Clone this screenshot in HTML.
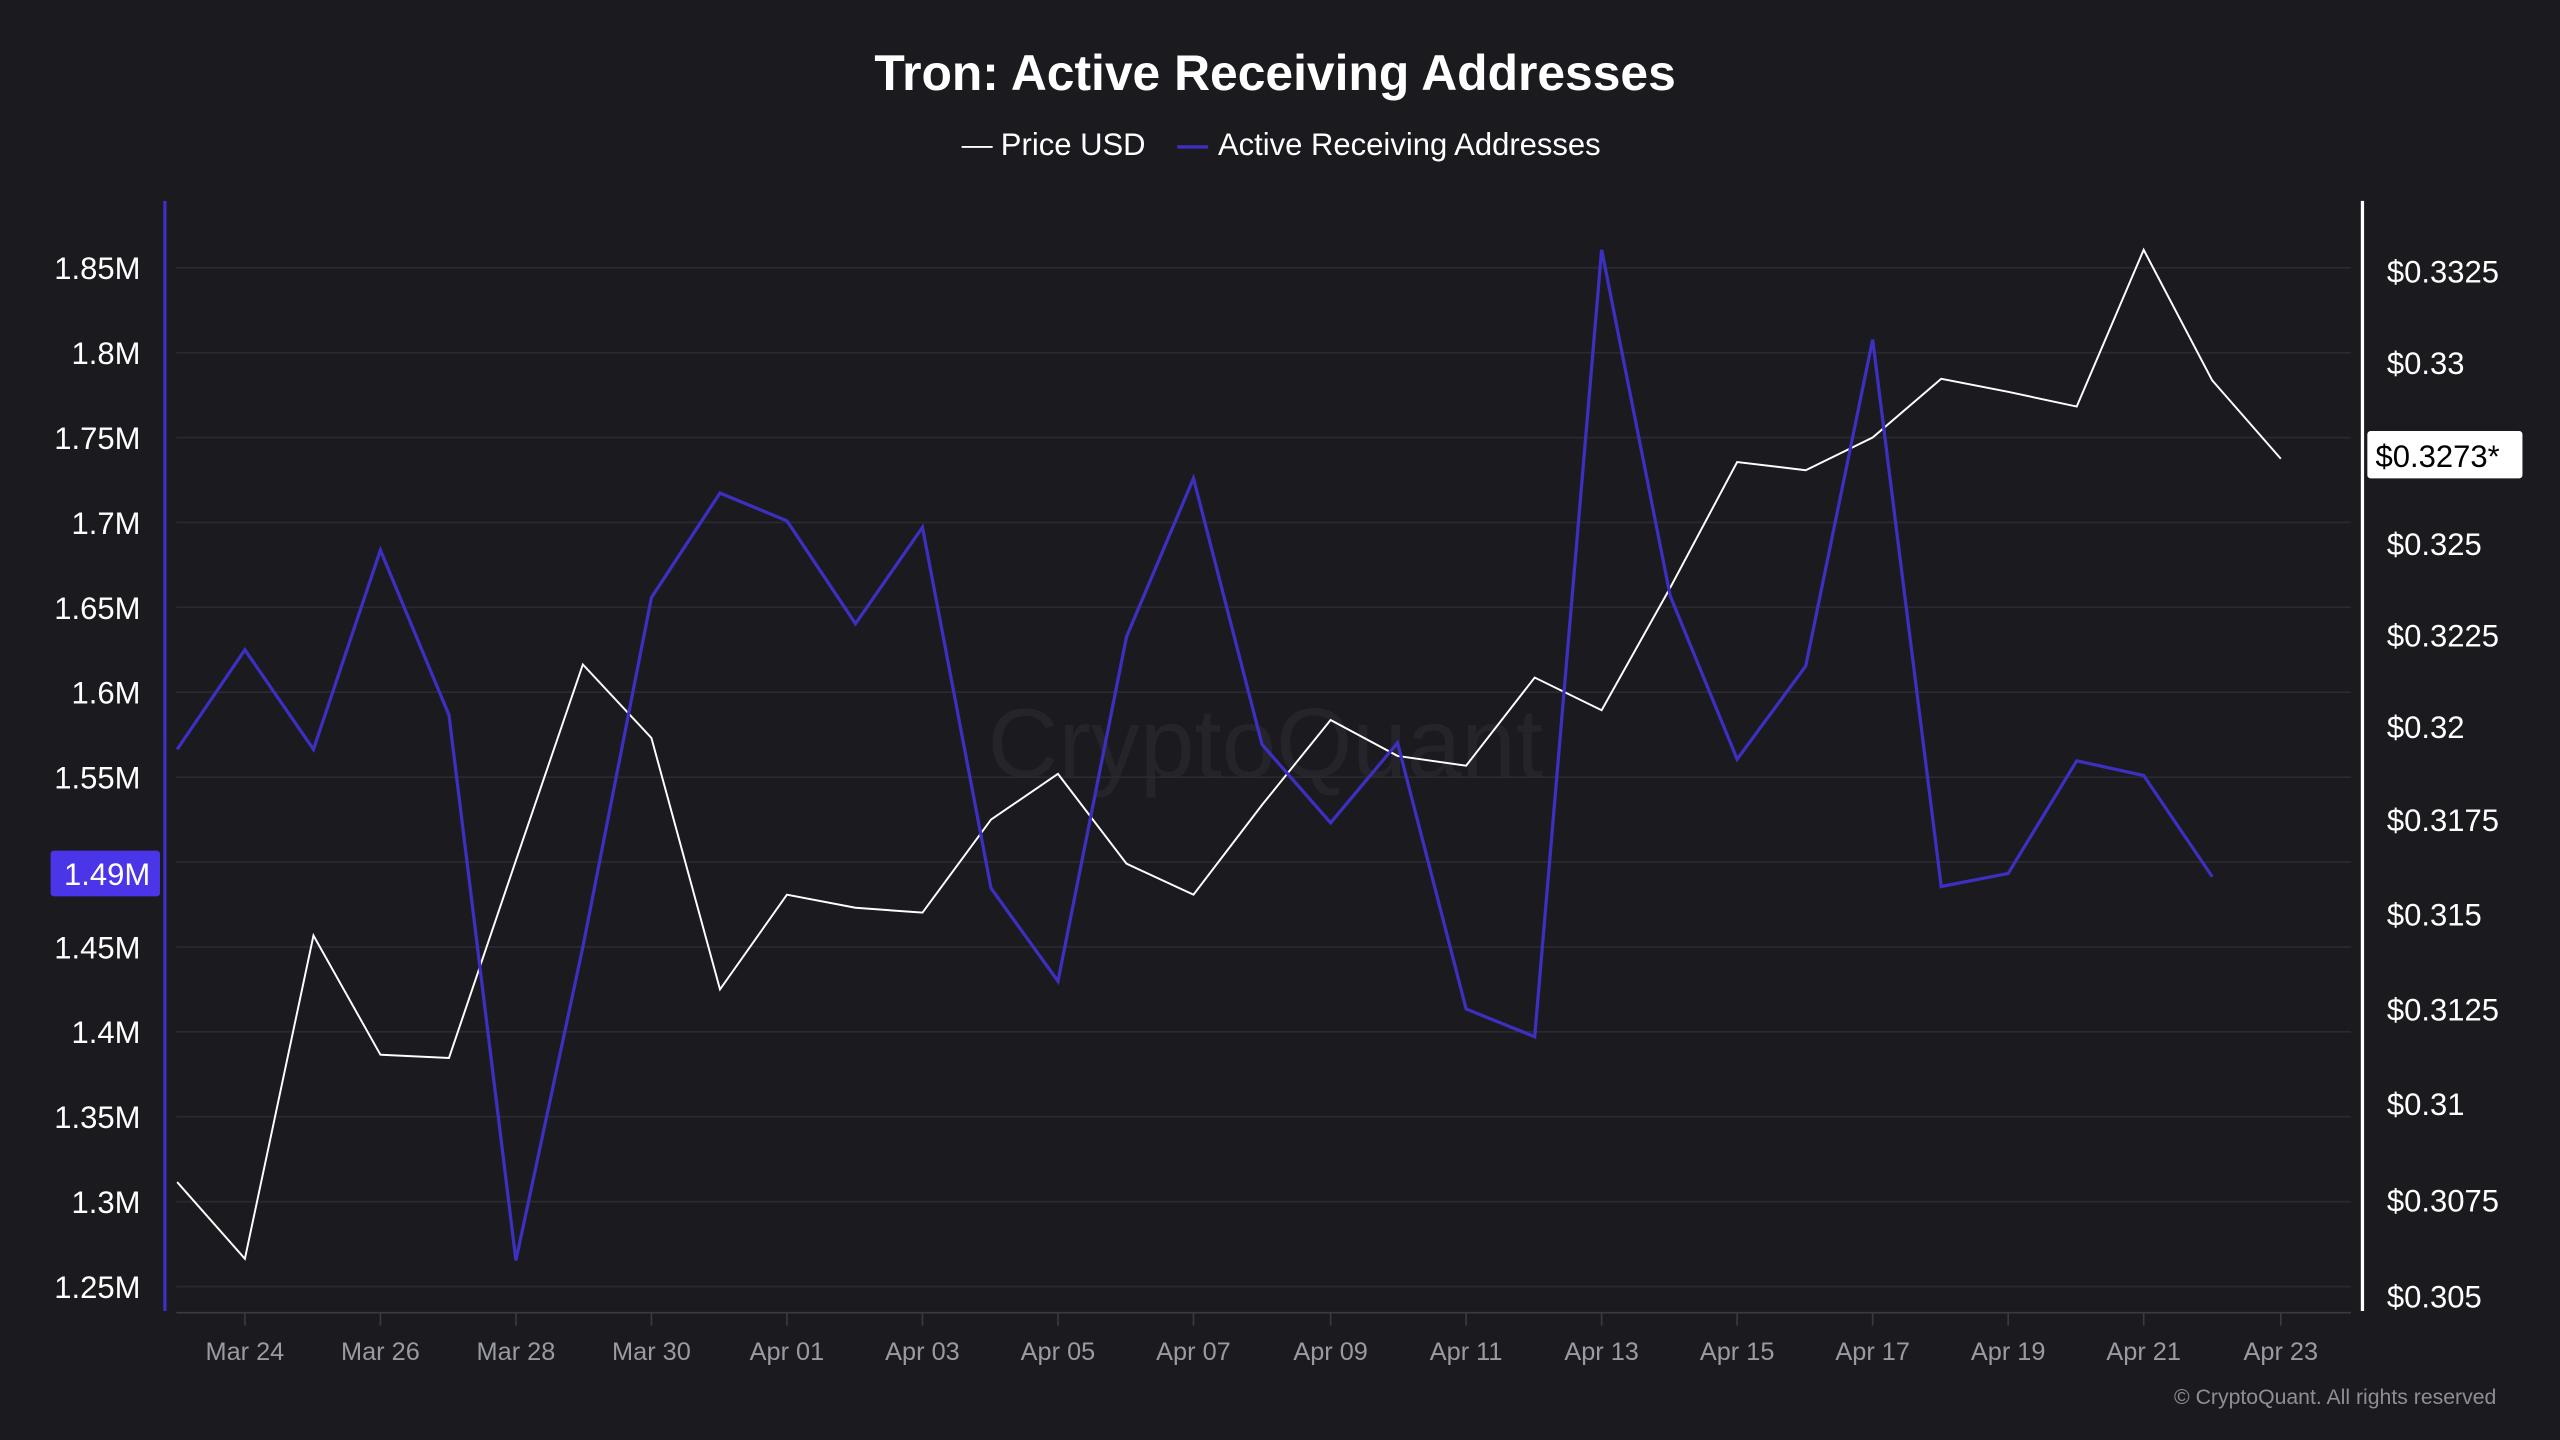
<!DOCTYPE html>
<html><head><meta charset="utf-8"><style>
html,body{margin:0;padding:0;background:#1a1a1f;}
svg{display:block;}
text{font-family:"Liberation Sans",sans-serif;}
</style></head><body>
<svg width="2560" height="1440" viewBox="0 0 1568 882" xmlns="http://www.w3.org/2000/svg">
<rect width="1568" height="882" fill="#1a1a1f"/>
<text x="781" y="55" text-anchor="middle" fill="#ffffff" font-size="30.5" font-weight="bold">Tron: Active Receiving Addresses</text>
<line x1="589" y1="90" x2="608" y2="90" stroke="#ffffff" stroke-width="1.2"/>
<text x="613" y="95" fill="#ffffff" font-size="19">Price USD</text>
<line x1="721" y1="90" x2="740" y2="90" stroke="#3d2fc0" stroke-width="2"/>
<text x="746" y="95" fill="#ffffff" font-size="19">Active Receiving Addresses</text>
<text x="775" y="476" text-anchor="middle" fill="#24242a" font-size="60">CryptoQuant</text>
<g stroke="#2a2a31" stroke-width="1">
<line x1="108" y1="164" x2="1440" y2="164"/><line x1="108" y1="216" x2="1440" y2="216"/>
<line x1="108" y1="268" x2="1440" y2="268"/><line x1="108" y1="320" x2="1440" y2="320"/>
<line x1="108" y1="372" x2="1440" y2="372"/><line x1="108" y1="424" x2="1440" y2="424"/>
<line x1="108" y1="476" x2="1440" y2="476"/><line x1="108" y1="528" x2="1440" y2="528"/>
<line x1="108" y1="580" x2="1440" y2="580"/><line x1="108" y1="632" x2="1440" y2="632"/>
<line x1="108" y1="684" x2="1440" y2="684"/><line x1="108" y1="736" x2="1440" y2="736"/>
<line x1="108" y1="788" x2="1440" y2="788"/>
</g>
<line x1="108" y1="804" x2="1440" y2="804" stroke="#3a3a42" stroke-width="1"/>
<g stroke="#3a3a42" stroke-width="1">
<line x1="150" y1="804" x2="150" y2="812"/><line x1="233" y1="804" x2="233" y2="812"/><line x1="316" y1="804" x2="316" y2="812"/><line x1="399" y1="804" x2="399" y2="812"/><line x1="482" y1="804" x2="482" y2="812"/><line x1="565" y1="804" x2="565" y2="812"/><line x1="648" y1="804" x2="648" y2="812"/><line x1="731" y1="804" x2="731" y2="812"/><line x1="815" y1="804" x2="815" y2="812"/><line x1="898" y1="804" x2="898" y2="812"/><line x1="981" y1="804" x2="981" y2="812"/><line x1="1064" y1="804" x2="1064" y2="812"/><line x1="1147" y1="804" x2="1147" y2="812"/><line x1="1230" y1="804" x2="1230" y2="812"/><line x1="1313" y1="804" x2="1313" y2="812"/><line x1="1397" y1="804" x2="1397" y2="812"/>
</g>
<g fill="#9a9aa3" font-size="15.5" text-anchor="middle">
<text x="150" y="833">Mar 24</text><text x="233" y="833">Mar 26</text><text x="316" y="833">Mar 28</text><text x="399" y="833">Mar 30</text><text x="482" y="833">Apr 01</text><text x="565" y="833">Apr 03</text><text x="648" y="833">Apr 05</text><text x="731" y="833">Apr 07</text><text x="815" y="833">Apr 09</text><text x="898" y="833">Apr 11</text><text x="981" y="833">Apr 13</text><text x="1064" y="833">Apr 15</text><text x="1147" y="833">Apr 17</text><text x="1230" y="833">Apr 19</text><text x="1313" y="833">Apr 21</text><text x="1397" y="833">Apr 23</text>
</g>
<line x1="101" y1="123" x2="101" y2="803" stroke="#3d2fc0" stroke-width="2"/>
<line x1="1447" y1="123" x2="1447" y2="803" stroke="#ffffff" stroke-width="2"/>
<g fill="#ffffff" font-size="19" text-anchor="end">
<text x="86" y="171">1.85M</text><text x="86" y="223">1.8M</text><text x="86" y="275">1.75M</text><text x="86" y="327">1.7M</text><text x="86" y="379">1.65M</text><text x="86" y="431">1.6M</text><text x="86" y="483">1.55M</text><text x="86" y="587">1.45M</text><text x="86" y="639">1.4M</text><text x="86" y="691">1.35M</text><text x="86" y="743">1.3M</text><text x="86" y="795">1.25M</text>
</g>
<rect x="31" y="521" width="67" height="28" rx="2" fill="#4a35e8"/>
<text x="92" y="542" text-anchor="end" fill="#ffffff" font-size="19">1.49M</text>
<g fill="#ffffff" font-size="19">
<text x="1462" y="173">$0.3325</text><text x="1462" y="229">$0.33</text><text x="1462" y="340">$0.325</text><text x="1462" y="396">$0.3225</text><text x="1462" y="452">$0.32</text><text x="1462" y="509">$0.3175</text><text x="1462" y="567">$0.315</text><text x="1462" y="625">$0.3125</text><text x="1462" y="683">$0.31</text><text x="1462" y="742">$0.3075</text><text x="1462" y="801">$0.305</text>
</g>
<rect x="1450" y="264" width="95" height="29" rx="2" fill="#ffffff"/>
<text x="1455" y="286" fill="#000000" font-size="19">$0.3273*</text>
<polyline fill="none" stroke="#ffffff" stroke-width="1.2" stroke-linejoin="miter" points="108.5,724 150,771 192,573 233,646 275,648 316,527 357,407 399,452 441,606 482,548 524,556 565,559 607,502 648,474 690,529 731,548 773,493 815,441 856,463 898,469 940,415 981,435 1023,360 1064,283 1106,288 1147,268 1189,232 1230,240 1272,249 1313,153 1355,233 1397,281"/>
<polyline fill="none" stroke="#3d2fc0" stroke-width="2" stroke-linejoin="miter" points="108.5,459 150,398 192,459 233,337 275,438 316,772 357,580 399,366 441,302 482,319 524,382 565,323 607,544 648,601 690,390 731,293 773,456 815,504 856,455 898,618 940,635 981,153 1023,365 1064,465 1106,408 1147,208 1189,543 1230,535 1272,466 1313,475 1355,537"/>
<text x="1529" y="860" text-anchor="end" fill="#8e8e96" font-size="13">© CryptoQuant. All rights reserved</text>
</svg>
</body></html>
